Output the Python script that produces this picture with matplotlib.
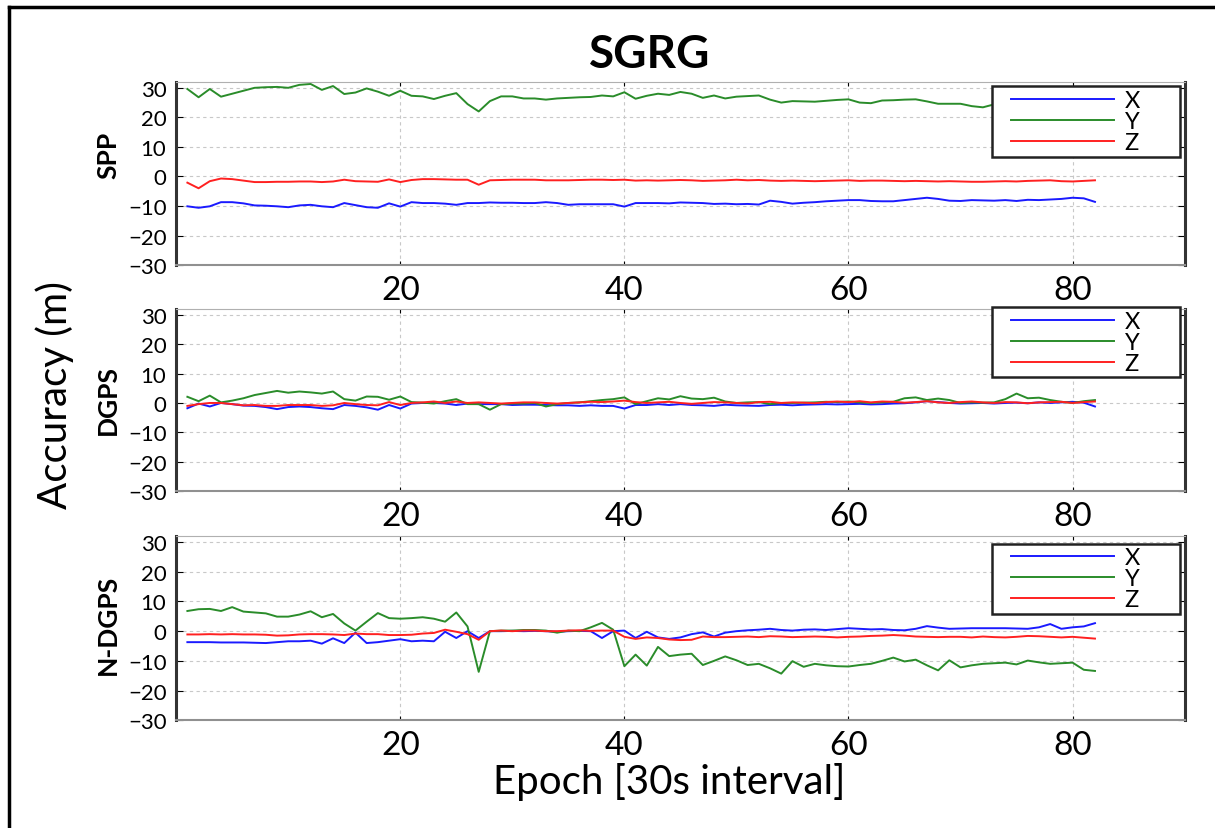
import numpy as np
import matplotlib
matplotlib.use("Agg")
import matplotlib.pyplot as plt
from matplotlib.lines import Line2D
from matplotlib.legend_handler import HandlerLine2D

plt.rcParams['font.family'] = ['Lato', 'DejaVu Sans']

# epochs (30 s interval)
epoch = np.arange(1, 83)

# SPP errors (m)
spp_x = [-10.1, -10.6, -10.1, -8.7, -8.7, -9.1, -9.8, -9.9, -10.1, -10.4,
         -9.8, -9.6, -10.1, -10.4, -9.0, -9.7, -10.4, -10.6, -9.1, -10.2,
         -8.7, -9.0, -9.0, -9.2, -9.6, -9.0, -9.0, -8.8, -8.9, -8.9,
         -9.0, -9.0, -8.7, -9.0, -9.6, -9.4, -9.4, -9.4, -9.4, -10.2,
         -9.0, -9.0, -9.0, -9.1, -8.8, -8.9, -9.0, -9.3, -9.2, -9.4,
         -9.3, -9.5, -8.2, -8.6, -9.2, -8.9, -8.7, -8.4, -8.2, -8.0,
         -8.0, -8.3, -8.4, -8.4, -8.0, -7.6, -7.2, -7.6, -8.2, -8.3,
         -8.0, -8.1, -8.2, -8.0, -8.3, -7.9, -8.0, -7.8, -7.6, -7.2,
         -7.4, -8.6]
spp_y = [29.6, 26.8, 29.6, 27.0, 28.0, 29.0, 30.0, 30.2, 30.3, 30.0,
         31.0, 31.3, 29.3, 30.6, 27.9, 28.4, 29.8, 28.7, 27.3, 29.0,
         27.3, 27.1, 26.2, 27.3, 28.2, 24.5, 22.0, 25.5, 27.1, 27.1,
         26.4, 26.4, 26.0, 26.4, 26.6, 26.8, 26.9, 27.4, 27.1, 28.5,
         26.3, 27.3, 28.0, 27.6, 28.6, 28.0, 26.6, 27.4, 26.4, 27.0,
         27.2, 27.4, 26.0, 25.0, 25.5, 25.4, 25.3, 25.6, 25.9, 26.1,
         25.0, 24.8, 25.7, 25.8, 26.0, 26.1, 25.4, 24.6, 24.6, 24.6,
         23.8, 23.4, 24.4, 25.0, 25.5, 25.0, 25.5, 25.2, 25.0, 25.4,
         25.0, 24.8]
spp_z = [-2.1, -4.0, -1.6, -0.7, -0.9, -1.4, -1.9, -1.9, -1.8, -1.8,
         -1.7, -1.7, -1.9, -1.7, -1.1, -1.6, -1.7, -1.8, -1.0, -1.9,
         -1.2, -0.9, -0.9, -1.0, -1.1, -1.1, -2.8, -1.3, -1.2, -1.1,
         -1.1, -1.1, -1.3, -1.3, -1.3, -1.2, -1.1, -1.1, -1.2, -1.1,
         -1.4, -1.3, -1.4, -1.3, -1.2, -1.3, -1.5, -1.4, -1.3, -1.1,
         -1.3, -1.2, -1.4, -1.5, -1.4, -1.5, -1.6, -1.5, -1.4, -1.3,
         -1.5, -1.4, -1.4, -1.5, -1.6, -1.5, -1.6, -1.7, -1.6, -1.7,
         -1.8, -1.8, -1.7, -1.6, -1.7, -1.5, -1.4, -1.3, -1.6, -1.7,
         -1.5, -1.3]

# DGPS errors (m)
dgps_x = [-1.8, -0.2, -1.2, 0.0, -0.4, -0.9, -1.0, -1.4, -2.1, -1.4,
          -1.2, -1.4, -1.8, -2.1, -0.7, -1.0, -1.5, -2.3, -0.7, -1.9,
          -0.2, 0.0, 0.0, -0.2, -0.7, -0.2, -0.4, -0.4, -0.4, -0.7,
          -0.6, -0.6, -0.7, -0.8, -0.8, -1.0, -0.8, -1.0, -1.0, -1.9,
          -0.7, -0.7, -0.4, -0.7, -0.4, -0.7, -0.8, -1.0, -0.6, -0.8,
          -0.9, -1.0, -0.7, -0.6, -0.8, -0.6, -0.5, -0.4, -0.5, -0.4,
          -0.3, -0.5, -0.4, -0.2, -0.1, 0.2, 0.6, 0.3, 0.0, -0.2,
          -0.1, 0.0, -0.2, 0.0, 0.1, -0.1, 0.2, 0.0, 0.2, 0.4,
          0.1, -1.2]
dgps_y = [2.1, 0.6, 2.5, 0.2, 0.8, 1.6, 2.7, 3.4, 4.1, 3.5,
          3.9, 3.6, 3.2, 3.9, 1.3, 0.8, 2.2, 2.1, 1.1, 2.2,
          0.3, 0.1, -0.2, 0.6, 1.3, -0.4, -0.4, -2.3, -0.4, -0.2,
          -0.2, 0.0, -1.2, -0.4, 0.0, 0.2, 0.6, 1.0, 1.3, 1.9,
          -0.4, 0.6, 1.6, 1.2, 2.3, 1.5, 1.3, 1.8, 0.5, 0.0,
          0.2, 0.3, -0.4, 0.0, 0.0, 0.1, 0.2, 0.4, 0.3, 0.5,
          0.2, 0.0, 0.2, 0.4, 1.6, 1.9, 1.0, 1.5, 1.0, 0.0,
          0.2, 0.1, 0.2, 1.3, 3.2, 1.6, 1.8, 1.0, 0.4, 0.0,
          0.6, 1.0]
dgps_z = [-1.0, -0.4, 0.0, 0.0, -0.4, -0.8, -0.7, -1.0, -1.0, -0.7,
          -0.7, -0.7, -1.0, -0.8, 0.0, -0.4, -0.7, -0.8, 0.3, -0.7,
          0.0, 0.2, 0.5, 0.0, 0.5, 0.0, 0.2, 0.0, -0.2, 0.0,
          0.2, 0.2, 0.0, -0.2, 0.0, 0.2, 0.4, 0.3, 0.5, 0.8,
          0.3, 0.0, 0.2, 0.4, 0.0, -0.3, 0.0, 0.3, 0.2, 0.0,
          -0.2, 0.3, 0.4, 0.0, 0.2, 0.1, -0.1, 0.3, 0.5, 0.3,
          0.6, 0.2, 0.5, 0.4, 0.1, 0.3, 0.6, 0.2, 0.0, 0.3,
          0.5, 0.2, 0.0, 0.3, 0.2, -0.1, 0.2, 0.3, 0.4, 0.0,
          0.3, 0.5]

# N-DGPS errors (m)
ndgps_x = [-3.7, -3.7, -3.7, -3.8, -3.8, -3.8, -3.9, -4.0, -3.7, -3.4,
           -3.4, -3.2, -4.2, -2.4, -4.0, -0.5, -4.0, -3.7, -3.2, -2.7,
           -3.4, -3.2, -3.4, -0.2, -2.3, 0.0, -2.3, 0.0, 0.0, 0.1,
           0.0, 0.1, 0.0, -0.2, 0.0, 0.1, 0.0, -2.3, 0.0, 0.2,
           -2.3, -0.2, -2.1, -2.6, -2.1, -1.0, -0.4, -1.8, -0.5, 0.0,
           0.3, 0.5, 0.8, 0.4, 0.2, 0.5, 0.6, 0.4, 0.7, 1.0,
           0.8, 0.6, 0.7, 0.4, 0.3, 0.8, 1.7, 1.2, 0.8, 0.9,
           1.0, 1.0, 1.0, 1.0, 0.9, 0.8, 1.3, 2.4, 0.8, 1.3,
           1.6, 2.7]
ndgps_y = [6.8, 7.4, 7.5, 6.8, 8.1, 6.6, 6.3, 6.0, 4.9, 4.9,
           5.6, 6.7, 4.7, 5.8, 2.6, 0.2, 3.2, 6.1, 4.4, 4.2,
           4.4, 4.7, 4.2, 3.2, 6.3, 1.6, -13.7, 0.0, 0.2, 0.2,
           0.4, 0.4, 0.2, -0.5, 0.2, 0.0, 1.3, 2.8, 0.5, -11.8,
           -7.9, -11.6, -5.3, -8.4, -7.9, -7.6, -11.4, -10.0, -8.5, -9.8,
           -11.4, -11.0, -12.5, -14.3, -10.1, -12.0, -11.0, -11.5, -11.8, -11.9,
           -11.4, -11.0, -10.0, -8.9, -10.2, -9.6, -11.5, -13.2, -9.8, -12.2,
           -11.5, -11.0, -10.8, -10.6, -11.2, -9.9, -10.5, -11.0, -10.8, -10.6,
           -13.0, -13.4]
ndgps_z = [-1.1, -1.1, -1.0, -1.1, -1.0, -1.1, -1.1, -1.2, -1.5, -1.4,
           -1.1, -1.0, -1.0, -1.1, -1.3, -0.8, -1.0, -1.0, -1.3, -1.3,
           -1.2, -0.8, -0.6, 0.5, -0.2, -1.0, -2.9, 0.0, 0.2, 0.0,
           0.2, 0.2, 0.0, 0.0, 0.2, 0.3, 0.1, 0.2, 0.2, -1.9,
           -2.6, -2.1, -2.3, -2.8, -3.0, -2.9, -1.8, -2.0, -2.0, -1.9,
           -1.8, -2.0, -1.7, -1.8, -2.0, -1.9, -1.8, -1.9, -2.1, -1.9,
           -1.8, -1.6, -1.5, -1.3, -1.5, -1.8, -1.9, -2.0, -1.9, -1.9,
           -2.1, -1.8, -2.0, -2.1, -1.9, -1.6, -1.7, -1.9, -2.1, -1.9,
           -2.2, -2.5]

panels = ["SPP", "DGPS", "N-DGPS"]
series = [(spp_x, spp_y, spp_z), (dgps_x, dgps_y, dgps_z), (ndgps_x, ndgps_y, ndgps_z)]
comp_names = ["X", "Y", "Z"]
comp_colors = ["#1a1aff", "#2a8c2a", "#ff2020"]
yticks = [-30, -20, -10, 0, 10, 20, 30]
xticks = [20, 40, 60, 80]

fig = plt.figure(figsize=(12.15, 8.29), dpi=100)

# axes boxes [left, bottom, width, height] and legend tops
boxes = [[0.145, 0.679, 0.830, 0.221],
         [0.145, 0.4065, 0.830, 0.2195],
         [0.145, 0.130, 0.830, 0.222]]
leg_tops = [0.975, 1.01, 0.96]
label_y = [0.813, 0.517, 0.246]

for i, name in enumerate(panels):
    ax = fig.add_axes(boxes[i])
    for vals, c, lab in zip(series[i], comp_colors, comp_names):
        # trailing spaces widen the legend box like the original
        ax.plot(epoch, vals, color=c, lw=1.4, label=lab + " " * 6)
    ax.set_xlim(0, 90)
    ax.set_ylim(-30, 32)
    ax.set_yticks(yticks)
    ax.set_xticks(xticks)
    ax.grid(True, ls=(0, (3, 3)), color="#c8c8c8", lw=0.8)
    ax.tick_params(axis="y", direction="in", labelsize=16, pad=7, right=True, length=5)
    ax.tick_params(axis="x", direction="in", labelsize=24, pad=7, top=True, length=3)
    ax.spines["left"].set_color("#333333")
    ax.spines["left"].set_linewidth(2.2)
    ax.spines["right"].set_color("#333333")
    ax.spines["right"].set_linewidth(2.2)
    ax.spines["top"].set_color("#b0b0b0")
    ax.spines["bottom"].set_color("#909090")
    ax.spines["bottom"].set_linewidth(1.5)
    leg = ax.legend(loc="upper right", bbox_to_anchor=(0.995, leg_tops[i]),
                    borderaxespad=0, fontsize=17, handlelength=5.0,
                    handletextpad=0.45, labelspacing=0.0, fancybox=False,
                    framealpha=1, edgecolor="#222222", borderpad=0.15,
                    handler_map={Line2D: HandlerLine2D(xpad=0.62)})
    leg.get_frame().set_linewidth(1.8)
    leg.set_zorder(10)
    fig.text(0.089, label_y[i], name, rotation=90, ha="center", va="center",
             fontsize=19, fontweight="bold")

fig.text(0.535, 0.934, "SGRG", ha="center", va="center", fontsize=33, fontweight="bold")
fig.text(0.045, 0.524, "Accuracy (m)", rotation=90, ha="center", va="center", fontsize=29)
fig.text(0.551, 0.057, "Epoch [30s interval]", ha="center", va="center", fontsize=29)

# page frame
fig.add_artist(Line2D([0.007, 0.007], [0.0, 0.99], color="black", lw=2.5))
fig.add_artist(Line2D([0.007, 1.0], [0.99, 0.99], color="black", lw=2.5))

fig.savefig("out.png", dpi=100)
